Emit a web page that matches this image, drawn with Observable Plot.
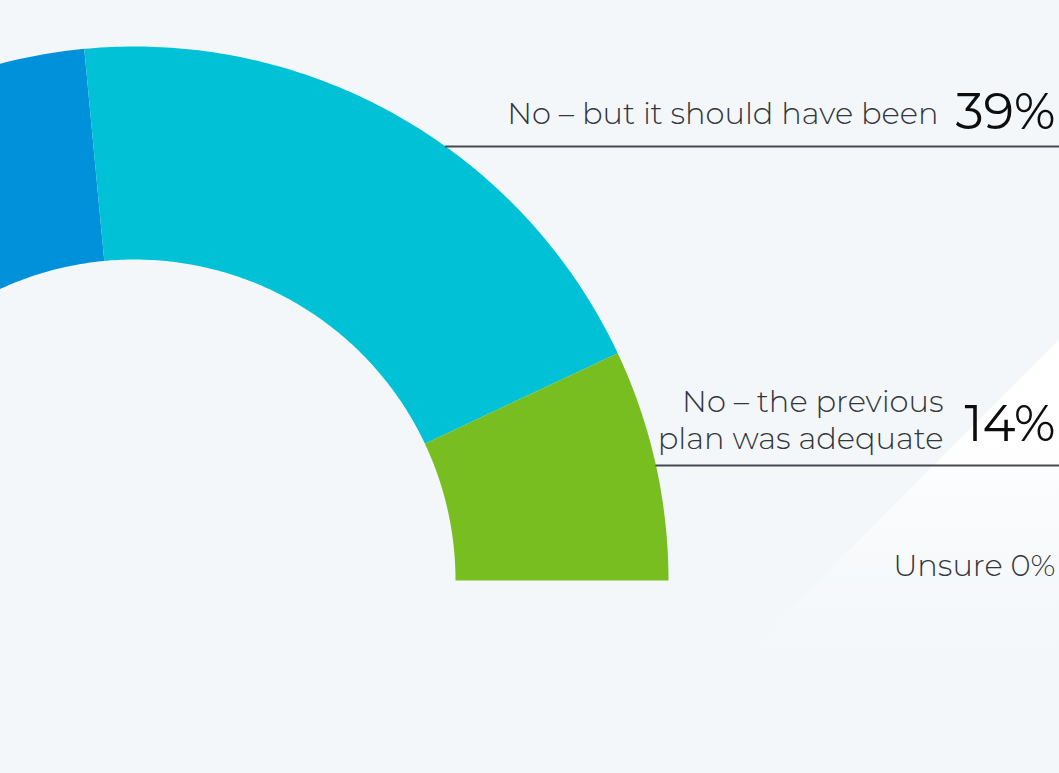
<!DOCTYPE html>
<html><head><meta charset="utf-8">
<script src="https://cdn.jsdelivr.net/npm/d3@7"></script>
<script src="https://cdn.jsdelivr.net/npm/@observablehq/plot@0.6"></script>
<style>
html,body{margin:0;padding:0;background:#f4f7fa;overflow:hidden}
#wrap{position:relative;width:1059px;height:773px}
#beam{position:absolute;left:0;top:0;width:1059px;height:773px;clip-path:polygon(1059px 340px,1059px 773px,626px 773px);background:linear-gradient(to bottom, rgba(255,255,255,0) 0px, #fff 345px, #fff 445px, rgba(255,255,255,0.55) 500px, rgba(255,255,255,0.2) 580px, rgba(255,255,255,0.06) 640px, rgba(255,255,255,0) 700px)}
#chart{position:absolute;left:0;top:0}
</style></head><body><div id="wrap"><div id="beam"></div><div id="chart"></div></div>
<script>
// ---- data ----
const categories = ["Yes", "No – but it should have been", "No – the previous\nplan was adequate", "Unsure"];
const shares = [47, 39, 14, 0];
const percentLabels = ["47%", "39%", "14%", "0%"];
const colors = ["#0091da", "#00c1d5", "#78be20", "#a0a5aa"];

// ---- layout (pixel-space units) ----
const W = 1059, H = 773;
const center = {x: 134, y: 580};
const outerR = 534, innerR = 321;
const labelLayout = [
  null,
  {lineY: 146, textY: 112, labelEnd: 938, pctEnd: 1055},
  {lineY: 465, textY: 418, pctY: 424, labelEnd: 943, pctEnd: 1055},
  {textY: 566, pctEnd: 1055, inline: true}
];

// ---- geometry ----
const total = d3.sum(shares);
let cum = 0;
const slices = categories.map((c, i) => {
  const a0 = Math.PI * (1 - cum / total);
  cum += shares[i];
  const a1 = Math.PI * (1 - cum / total);
  return {cat: c, i, a0, a1};
});
const pts = [];
for (const s of slices) {
  if (s.a0 === s.a1) continue;
  const n = 120;
  for (let k = 0; k <= n; k++) {
    const a = s.a0 + (s.a1 - s.a0) * k / n;
    pts.push({cat: s.cat, x: center.x + outerR * Math.cos(a), y: center.y - outerR * Math.sin(a)});
  }
  for (let k = n; k >= 0; k--) {
    const a = s.a0 + (s.a1 - s.a0) * k / n;
    pts.push({cat: s.cat, x: center.x + innerR * Math.cos(a), y: center.y - innerR * Math.sin(a)});
  }
}
const leaders = [], labels = [], pcts = [], inline = [];
categories.forEach((c, i) => {
  const L = labelLayout[i];
  if (!L) return;
  if (L.inline) { inline.push({x: L.pctEnd, y: L.textY, t: c + " " + percentLabels[i]}); return; }
  const dy = center.y - L.lineY;
  leaders.push({x1: center.x + Math.sqrt(outerR * outerR - dy * dy), x2: W, y: L.lineY});
  labels.push({x: L.labelEnd, y: L.textY, t: c});
  pcts.push({x: L.pctEnd, y: L.pctY ?? L.textY, t: percentLabels[i]});
});

const font = "Montserrat, Lato, 'Open Sans', sans-serif";
const chart = Plot.plot({
  width: W, height: H, margin: 0,
  x: {domain: [0, W], range: [0, W], axis: null},
  y: {domain: [0, H], range: [0, H], axis: null},
  color: {domain: categories, range: colors},
  style: {background: "transparent", overflow: "visible", fontFamily: font},
  marks: [
    Plot.line(pts, {x: "x", y: "y", z: "cat", fill: "cat", stroke: "none", curve: "linear-closed"}),
    Plot.ruleY(leaders, {x1: "x1", x2: "x2", y: "y", stroke: "#464a50", strokeWidth: 2}),
    Plot.text(labels, {x: "x", y: "y", text: "t", textAnchor: "end", lineAnchor: "middle", lineHeight: 1.22, fontSize: 30.5, fontWeight: 300, fill: "#33373d"}),
    Plot.text(pcts, {x: "x", y: "y", text: "t", textAnchor: "end", lineAnchor: "middle", fontSize: 50, fontWeight: 400, fill: "#0d0d0d"}),
    Plot.text(inline, {x: "x", y: "y", text: "t", textAnchor: "end", lineAnchor: "middle", fontSize: 30.5, fontWeight: 300, fill: "#33373d"})
  ]
});
document.getElementById("chart").appendChild(chart);
</script></body></html>
